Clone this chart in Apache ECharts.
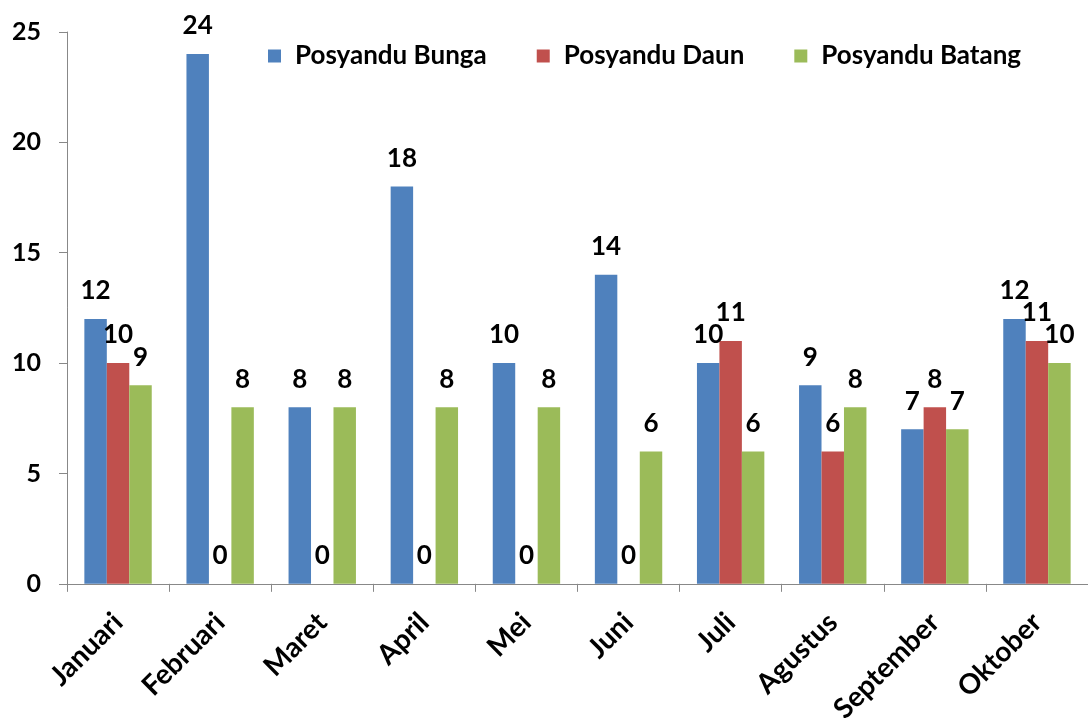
<!DOCTYPE html>
<html><head><meta charset="utf-8">
<script src="https://cdn.jsdelivr.net/npm/echarts@6/dist/echarts.min.js"></script>
<style>html,body{margin:0;padding:0;background:#fff}#c{width:1088px;height:726px}</style>
</head><body><div id="c"></div>
<script>
var categories = ['Januari','Februari','Maret','April','Mei','Juni','Juli','Agustus','September','Oktober'];
var seriesNames = ['Posyandu Bunga','Posyandu Daun','Posyandu Batang'];
var bunga = [12,24,8,18,10,14,10,9,7,12];
var daun = [10,0,0,0,0,0,11,6,8,11];
var batang = [9,8,8,8,8,6,6,8,7,10];
var colors = ['#4F81BD','#C0504D','#9BBB59'];
var FONT = 'Lato';
var chart = echarts.init(document.getElementById('c'));
function mk(name, data, color){
  return {name:name,type:'bar',data:data,barGap:'0%',barCategoryGap:'34%',
    itemStyle:{color:color},
    label:{show:true,position:'top',distance:15,color:'#000',fontFamily:FONT,fontWeight:'bold',fontSize:26}};
}
chart.setOption({
  animation:false,
  color:colors,
  legend:{top:38,left:263,itemWidth:13,itemHeight:13,itemGap:50,icon:'rect',
    textStyle:{fontFamily:FONT,fontWeight:'bold',fontSize:26,color:'#000',padding:[0,0,0,9]}},
  grid:{left:67,top:32,width:1026,bottom:141,containLabel:false},
  xAxis:{type:'category',data:categories,
    axisLine:{lineStyle:{color:'#888'}},
    axisTick:{show:true,length:8,lineStyle:{color:'#888'}},
    axisLabel:{rotate:45,margin:34,color:'#000',fontFamily:FONT,fontWeight:'bold',fontSize:28}},
  yAxis:{type:'value',min:0,max:25,interval:5,
    axisLine:{show:true,lineStyle:{color:'#888'}},
    axisTick:{show:true,inside:false,length:8,lineStyle:{color:'#888'}},
    splitLine:{show:false},
    axisLabel:{margin:26,color:'#000',fontFamily:FONT,fontWeight:'bold',fontSize:25}},
  series:[mk(seriesNames[0],bunga,colors[0]),mk(seriesNames[1],daun,colors[1]),mk(seriesNames[2],batang,colors[2])]
});
</script></body></html>
